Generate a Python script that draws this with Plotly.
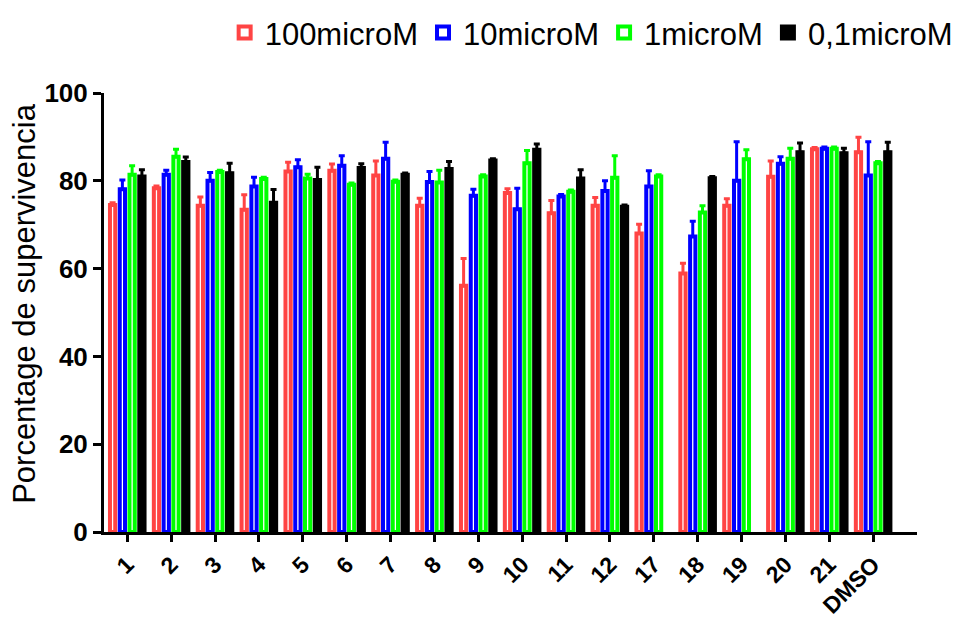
import plotly.graph_objects as go

categories = ["1", "2", "3", "4", "5", "6", "7", "8", "9", "10", "11", "12",
              "17", "18", "19", "20", "21", "DMSO"]

series_names = ["100microM", "10microM", "1microM", "0,1microM"]

v100 = [74.5, 78.3, 74.3, 73.4, 82.1, 82.3, 81.2, 74.3, 56.1, 77.2, 72.6, 74.3,
        68.0, 58.9, 74.3, 80.9, 87.2, 86.5]
e100 = [0.5, 0.5, 2.0, 3.4, 2.1, 1.5, 3.3, 1.7, 6.2, 1.0, 2.9, 1.9,
        2.1, 2.3, 1.6, 3.6, 0.4, 3.4]
v10 = [78.1, 81.4, 80.0, 78.7, 83.1, 83.4, 85.0, 79.7, 76.6, 73.5, 76.4, 77.7,
       78.7, 67.3, 80.0, 83.9, 87.3, 81.2]
e10 = [2.1, 1.0, 1.9, 2.1, 1.7, 2.3, 3.8, 2.4, 1.5, 4.8, 0.5, 2.3,
       3.6, 3.5, 8.9, 1.6, 0.4, 7.7]
v1 = [81.4, 85.5, 82.0, 80.4, 80.5, 79.1, 79.8, 79.6, 81.0, 84.0, 77.5, 80.7,
      81.0, 72.8, 84.9, 85.0, 87.3, 84.0]
e1 = [2.0, 1.7, 0.4, 0.4, 1.0, 0.4, 0.4, 2.8, 0.4, 2.9, 0.4, 5.0,
      0.4, 1.5, 2.2, 2.4, 0.4, 0.4]
v01 = [81.0, 84.3, 81.7, 75.0, 80.2, 82.9, 81.4, 82.7, 84.6, 87.1, 80.5, 74.1,
       None, 80.6, None, 86.5, 86.3, 86.5]
e01 = [1.5, 1.1, 2.3, 3.0, 2.9, 1.0, 0.4, 1.7, 0.4, 1.3, 2.0, 0.4,
       0, 0.4, 0, 2.1, 1.1, 2.3]

y_title = "Porcentage de supervivencia"

colors = ["#FF4444", "#0000FF", "#00FF00", "#000000"]
fills = ["white", "white", "white", "#000000"]
values = [v100, v10, v1, v01]
errors = [e100, e10, e1, e01]
centers = [-0.334, -0.111, 0.111, 0.334]
bw = 0.12

FONT = "Arial, Liberation Sans, sans-serif"

fig = go.Figure()
for name, col, fill, vals, errs, c in zip(series_names, colors, fills, values, errors, centers):
    fig.add_trace(go.Bar(
        x=categories, y=vals, name=name,
        width=bw, offset=c - bw / 2,
        marker=dict(color=fill, line=dict(color=col, width=4)),
        error_y=dict(type="data", array=errs, arrayminus=[0] * len(errs),
                     symmetric=False, color=col, thickness=3, width=3),
    ))

fig.add_annotation(
    text=y_title, xref="paper", yref="paper", x=-0.097, y=0.52,
    xanchor="center", yanchor="middle", textangle=-90, showarrow=False,
    font=dict(family=FONT, size=31, color="black"),
)

fig.update_layout(
    width=968, height=621,
    margin=dict(l=104, r=51, t=93, b=89, autoexpand=False),
    paper_bgcolor="white", plot_bgcolor="white",
    barmode="group",
    showlegend=True,
    legend=dict(orientation="h", x=1.05, xanchor="right", y=1.137, yanchor="middle",
                font=dict(family=FONT, size=31, color="black"),
                itemwidth=30, tracegroupgap=0),
    font=dict(family=FONT, color="black"),
    xaxis=dict(
        range=[-0.53, 18.0], showline=True, linewidth=3, linecolor="black",
        ticks="outside", ticklen=7, tickwidth=3, tickcolor="black",
        tickangle=-45, tickfont=dict(family=FONT, size=23, color="black", weight="bold"),
        showgrid=False, zeroline=False, automargin=False,
    ),
    yaxis=dict(
        range=[0, 100], tickvals=[0, 20, 40, 60, 80, 100],
        showline=True, linewidth=3, linecolor="black",
        ticks="outside", ticklen=8, tickwidth=3, tickcolor="black",
        tickfont=dict(family=FONT, size=26, color="black", weight="bold"),
        showgrid=False, zeroline=False, automargin=False,
    ),
)

fig.write_html("out.html")
